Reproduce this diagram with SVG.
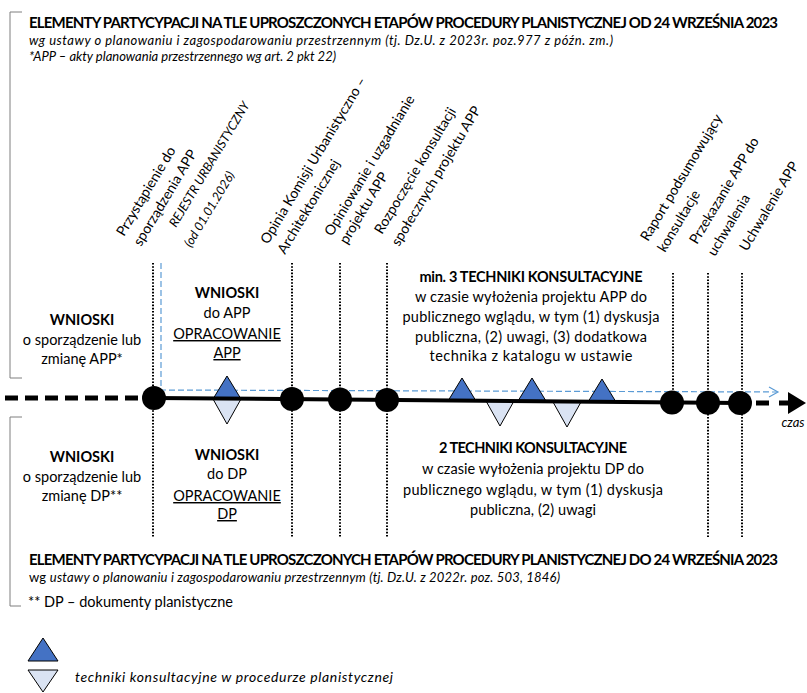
<svg xmlns="http://www.w3.org/2000/svg" width="807" height="693" viewBox="0 0 807 693">
<style>
text{font-family:Lato,"Liberation Sans",sans-serif;fill:#000}
.t{font-size:15px;font-weight:bold}
.s{font-size:13px;font-style:italic}
.b{font-size:14.5px}
.bb{font-size:14.5px;font-weight:bold}
.r{font-size:14px}
.ri{font-size:12.5px;font-style:italic}
.c{text-anchor:middle}
.u{text-decoration:underline}
.dot{stroke:#000;stroke-width:2;stroke-dasharray:1.6 1.6;fill:none}
.br{stroke:#7f7f7f;stroke-width:1;fill:none}
.up{fill:#4472c4;stroke:#000;stroke-width:1}
.dn{fill:#dae3f3;stroke:#000;stroke-width:1}
.dash{stroke:#000;stroke-width:5;stroke-dasharray:13 7;fill:none}
</style>
<rect width="807" height="693" fill="#fff"/>

<g id="header-top">
<path class="br" d="M22,12 H10 V378 H22"/>
<text class="t" x="29" y="28" textLength="749">ELEMENTY PARTYCYPACJI NA TLE UPROSZCZONYCH ETAPÓW PROCEDURY PLANISTYCZNEJ OD 24 WRZEŚNIA 2023</text>
<text class="s" x="29" y="45" textLength="584">wg ustawy o planowaniu i zagospodarowaniu przestrzennym (tj. Dz.U. z 2023r. poz.977 z późn. zm.)</text>
<text class="s" x="29" y="61">*APP – akty planowania przestrzennego wg art. 2 pkt 22)</text>
</g>

<g id="header-bottom">
<path class="br" d="M22,417 H10 V606 H21"/>
<text class="t" x="29" y="565" textLength="749">ELEMENTY PARTYCYPACJI NA TLE UPROSZCZONYCH ETAPÓW PROCEDURY PLANISTYCZNEJ DO 24 WRZEŚNIA 2023</text>
<text class="s" x="29" y="582" textLength="531"><tspan font-style="normal">wg </tspan>ustawy o planowaniu i zagospodarowaniu przestrzennym (tj. Dz.U. z 2022r. poz. 503, 1846)</text>
<text class="b" x="28" y="607">** DP – dokumenty planistyczne</text>
</g>

<g id="stage-labels">
<text class="r" transform="translate(124,237) rotate(-59)">Przystąpienie do</text>
<text class="r" transform="translate(141,247) rotate(-59)">sporządzenia APP</text>
<text class="ri" transform="translate(176,228) rotate(-59)">REJESTR URBANISTYCZNY</text>
<text class="ri" transform="translate(191,248) rotate(-59)">(od 01.01.2026)</text>
<text class="r" transform="translate(268,245) rotate(-59)">Opinia Komisji Urbanistyczno –</text>
<text class="r" transform="translate(285,255) rotate(-59)">Architektonicznej</text>
<text class="r" transform="translate(332,237) rotate(-59)">Opiniowanie i uzgadnianie</text>
<text class="r" transform="translate(347,245) rotate(-59)">projektu APP</text>
<text class="r" transform="translate(382,235) rotate(-59)">Rozpoczęcie konsultacji</text>
<text class="r" transform="translate(399,247) rotate(-59)">społecznych projektu APP</text>
<text class="r" transform="translate(648,242) rotate(-59)">Raport podsumowujący</text>
<text class="r" transform="translate(665,253) rotate(-59)">konsultacje</text>
<text class="r" transform="translate(697,245) rotate(-59)">Przekazanie APP do</text>
<text class="r" transform="translate(715,257) rotate(-59)">uchwalenia</text>
<text class="r" transform="translate(747,252) rotate(-59)">Uchwalenie APP</text>
</g>

<g id="connectors">
<path class="dot" d="M153,263 V537 M292,263 V537 M340,263 V537 M387,263 V537 M673,273 V402 M708,273 V537 M742,273 V537"/>
<path d="M161,263 V390 L777,392" stroke="#5b9bd5" stroke-width="1.2" stroke-dasharray="6 3" fill="none"/>
<polyline points="769,387 778,392 769,397" stroke="#5b9bd5" stroke-width="1.2" fill="none"/>
<path class="dash" d="M5,398 H150"/>
<path class="dash" d="M756,403 H773 M779,403 H790"/>
<polygon points="788,392 806,403 788,414" fill="#000"/>
</g>

<g id="techniques">
<polygon class="up" points="227,376 241,399 213,399"/>
<polygon class="dn" points="213,399 241,399 227,424"/>
<polygon class="up" points="462,378 476,401 448,401"/>
<polygon class="up" points="532,378 546,401 518,401"/>
<polygon class="up" points="602,379 616,402 588,402"/>
<polygon class="dn" points="486,401 514,401 500,426"/>
<polygon class="dn" points="553,402 581,402 567,427"/>
</g>

<g id="timeline">
<path d="M154,398 L740,403" stroke="#000" stroke-width="4" fill="none"/>
<circle cx="154" cy="398" r="12"/>
<circle cx="292" cy="399" r="12"/>
<circle cx="340" cy="399.5" r="12"/>
<circle cx="387" cy="400" r="12"/>
<circle cx="672" cy="402.4" r="12"/>
<circle cx="708" cy="402.7" r="12"/>
<circle cx="740" cy="403" r="12"/>
<text class="s c" x="793" y="427" style="font-size:13px">czas</text>
</g>

<g id="wnioski-app-zmiana">
<text class="bb c" x="82" y="325">WNIOSKI</text>
<text class="b c" x="82" y="345">o sporządzenie lub</text>
<text class="b c" x="82" y="364">zmianę APP*</text>
</g>
<g id="wnioski-app">
<text class="bb c" x="227" y="298">WNIOSKI</text>
<text class="b c" x="227" y="318">do APP</text>
<text class="b c u" x="227" y="339">OPRACOWANIE</text>
<text class="b c u" x="227" y="358">APP</text>
</g>
<g id="techniki-app">
<text class="bb c" x="531" y="282" textLength="223">min. 3 TECHNIKI KONSULTACYJNE</text>
<text class="b c" x="531" y="302" textLength="232">w czasie wyłożenia projektu APP do</text>
<text class="b c" x="531" y="322" textLength="257">publicznego wglądu, w tym (1) dyskusja</text>
<text class="b c" x="531" y="342" textLength="232">publiczna, (2) uwagi, (3) dodatkowa</text>
<text class="b c" x="531" y="361" textLength="203">technika z katalogu w ustawie</text>
</g>
<g id="wnioski-dp-zmiana">
<text class="bb c" x="82" y="462">WNIOSKI</text>
<text class="b c" x="82" y="482">o sporządzenie lub</text>
<text class="b c" x="82" y="501">zmianę DP**</text>
</g>
<g id="wnioski-dp">
<text class="bb c" x="227" y="460">WNIOSKI</text>
<text class="b c" x="227" y="479">do DP</text>
<text class="b c u" x="227" y="501">OPRACOWANIE</text>
<text class="b c u" x="227" y="519">DP</text>
</g>
<g id="techniki-dp">
<text class="bb c" x="533" y="453" textLength="188">2 TECHNIKI KONSULTACYJNE</text>
<text class="b c" x="533" y="474" textLength="222">w czasie wyłożenia projektu DP do</text>
<text class="b c" x="533" y="495" textLength="260">publicznego wglądu, w tym (1) dyskusja</text>
<text class="b c" x="533" y="515" textLength="126">publiczna, (2) uwagi</text>
</g>

<g id="legend">
<polygon class="up" points="43,638 58,661 28,661"/>
<polygon class="dn" points="28,670 58,670 43,692"/>
<text class="s" x="75" y="682" style="font-size:14px" textLength="318">techniki konsultacyjne w procedurze planistycznej</text>
</g>
</svg>
